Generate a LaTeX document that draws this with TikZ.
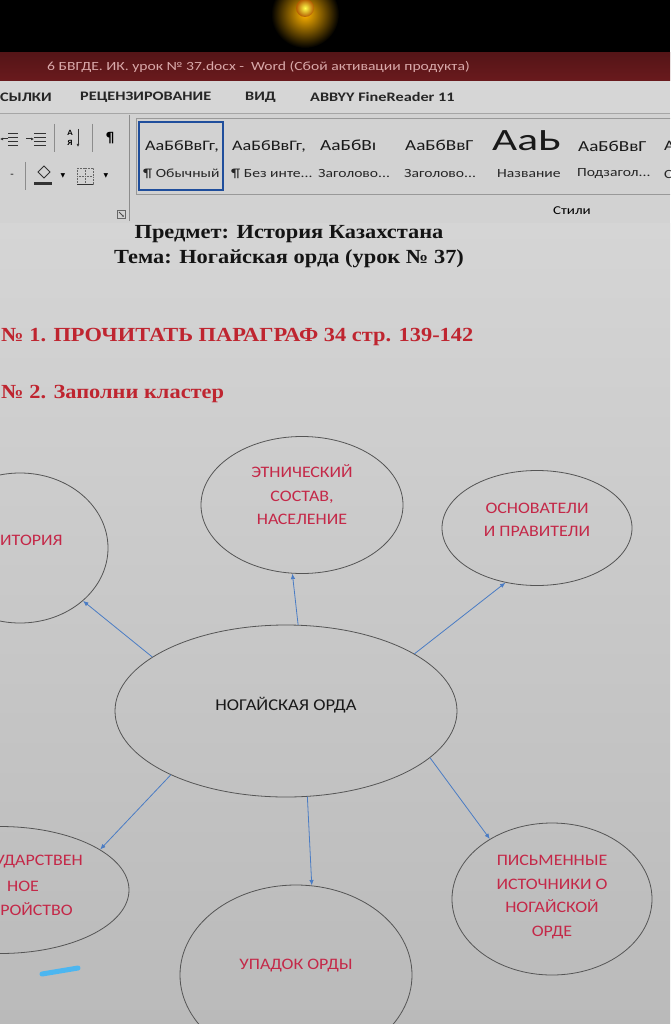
\documentclass[tikz,border=0pt]{standalone}
\usepackage{fontspec}
\setmainfont{Liberation Serif}
\newfontfamily\serifw[FakeStretch=1.12]{Liberation Serif}
\newfontfamily\calib[FakeStretch=1.12]{Carlito}
\newfontfamily\ribf[FakeStretch=1.25]{Carlito}
\newfontfamily\dejav{DejaVu Sans}
\usetikzlibrary{arrows.meta,shapes.geometric}
\definecolor{titlered}{HTML}{6A1A1D}
\definecolor{titletxt}{HTML}{D9A9AA}
\definecolor{tabgray}{HTML}{D6D6D6}
\definecolor{ribgray}{HTML}{D2D2D2}
\definecolor{docgray}{HTML}{D5D5D5}
\definecolor{docdark}{HTML}{BABABA}
\definecolor{crim}{HTML}{C42848}
\definecolor{headred}{HTML}{BF2530}
\definecolor{arrblue}{HTML}{4A7CC4}
\definecolor{selblue}{HTML}{1F4E9C}
\definecolor{markblue}{HTML}{4CB6F0}
\definecolor{rimgray}{HTML}{555555}
\begin{document}
\begin{tikzpicture}[x=1pt,y=-1pt,
  bub/.style={ellipse, draw=rimgray, line width=0.8pt, inner sep=0pt},
  btxt/.style={font=\calib\fontsize{16}{23.6}\selectfont, text=crim, align=center, inner sep=0pt},
  arr/.style={draw=arrblue, line width=0.8pt, -{Latex[length=5.5pt,width=4.5pt]}},
  tab/.style={font=\ribf\bfseries\fontsize{13}{13}\selectfont, text=black!85, inner sep=0pt, anchor=west},
  sty/.style={font=\ribf\fontsize{14.5}{14.5}\selectfont, text=black!90, inner sep=0pt, anchor=west},
  styname/.style={font=\ribf\fontsize{12.5}{12.5}\selectfont, text=black!85, inner sep=0pt, anchor=west},
  ttl/.style={font=\serifw\bfseries\fontsize{20}{20}\selectfont, text=black!92, inner sep=0pt},
  hd/.style={font=\serifw\bfseries\fontsize{20}{20}\selectfont, text=headred, inner sep=0pt, anchor=west},
  sep/.style={draw=black!45, line width=0.7pt}]
\useasboundingbox (0,0) rectangle (670,1024);
\clip (0,0) rectangle (670,1024);
% --- black top with glow
\fill[black] (0,0) rectangle (670,53);
\shade[inner color=orange!60!yellow, outer color=black] (305,14) circle (34);
\shade[inner color=yellow!70!white, outer color=orange!70!black] (305,8) circle (9);
% --- title bar
\shade[top color=titlered!80!black, bottom color=titlered] (0,53) rectangle (670,81);
\node[font=\ribf\fontsize{12.5}{12.5}\selectfont, text=titletxt, inner sep=0pt, anchor=west] (wintitle) at (47,67)
  {6 БВГДЕ. ИК. урок № 37.docx -\ \ Word (Сбой активации продукта)};
% --- tabs row
\fill[tabgray] (0,81) rectangle (670,113);
\node[tab] (t1) at (0,97) {СЫЛКИ};
\node[tab] (t2) at (80,97) {РЕЦЕНЗИРОВАНИЕ};
\node[tab] (t3) at (245,97) {ВИД};
\node[tab] (t4) at (310,97) {ABBYY FineReader 11};
% --- ribbon body
\fill[ribgray] (0,113) rectangle (670,223);
\draw[black!35, line width=0.6pt] (0,113) -- (670,113);
\draw[black!40, line width=0.8pt] (0,223) -- (670,223);
% paragraph group icons
\foreach \yy in {133,137,141,145} {\draw[black!80, line width=0.8pt] (8,\yy) -- (18,\yy);}
\draw[black!80, line width=1pt, -{Latex[length=3pt,width=3pt]}] (8,139) -- (0,139);
\foreach \yy in {133,137,141,145} {\draw[black!80, line width=0.8pt] (34,\yy) -- (46,\yy);}
\draw[black!80, line width=1pt, -{Latex[length=3pt,width=3pt]}] (26,139) -- (34,139);
\draw[sep] (54,124) -- (54,152);
\node[font=\calib\bfseries\fontsize{8}{8}\selectfont, inner sep=0pt] (sa) at (70,133) {А};
\node[font=\calib\bfseries\fontsize{8}{8}\selectfont, inner sep=0pt] (sya) at (70,143) {Я};
\draw[black!80, line width=0.9pt, -{Latex[length=3pt,width=3pt]}] (78,129) -- (78,147);
\draw[sep] (92,124) -- (92,152);
\node[font=\dejav\bfseries\fontsize{14}{14}\selectfont, inner sep=0pt] (pil) at (110,138) {¶};
\node[font=\calib\fontsize{10}{10}\selectfont, inner sep=0pt] (dd0) at (12,176) {-};
\draw[sep] (25,162) -- (25,190);
\draw[black!80, line width=0.9pt] (38,172) -- (44,166) -- (50,172) -- (44,178) -- cycle;
\fill[black!80] (34,182) rectangle (52,185);
\node[font=\dejav\fontsize{6}{6}\selectfont, inner sep=0pt] (dd1) at (63,176) {▼};
\draw[black!60, densely dotted, line width=0.6pt] (77,168) rectangle (93,184);
\draw[black!60, densely dotted, line width=0.6pt] (85,168) -- (85,184) (77,176) -- (93,176);
\draw[black!80, line width=0.9pt] (77,184) -- (93,184);
\node[font=\dejav\fontsize{6}{6}\selectfont, inner sep=0pt] (dd2) at (106,176) {▼};
\draw[black!60, line width=0.6pt] (117,210) rectangle (125,218);
\draw[black!70, line width=0.8pt, -{Latex[length=2pt,width=2pt]}] (119,212) -- (124,217);
\draw[sep] (129,115) -- (129,221);
% styles gallery
\draw[black!40, line width=0.7pt] (136,118) rectangle (672,194);
\draw[selblue, line width=2.6pt] (139,122) rectangle (223,190);
\node[sty] (s1) at (145,146) {АаБбВвГг,};
\node[styname] (n1) at (143,174) {¶ Обычный};
\node[sty] (s2) at (232,146) {АаБбВвГг,};
\node[styname] (n2) at (231,174) {¶ Без инте...};
\node[sty, font=\ribf\fontsize{15.5}{15.5}\selectfont] (s3) at (320,145) {АаБбВı};
\node[styname] (n3) at (318,174) {Заголово...};
\node[sty, font=\ribf\fontsize{15.3}{15.3}\selectfont] (s4) at (405,145) {АаБбВвГ};
\node[styname] (n4) at (404,174) {Заголово...};
\node[sty, font=\ribf\fontsize{31}{31}\selectfont] (s5) at (492,141) {\scalebox{1.12}[1]{АаЬ}};
\node[styname] (n5) at (497,174) {Название};
\node[sty, font=\ribf\fontsize{15.3}{15.3}\selectfont] (s6) at (578,146) {АаБбВвГ};
\node[styname] (n6) at (577,174) {Подзагол...};
\node[sty] (s7) at (664,146) {А};
\node[styname] (n7) at (664,174) {С};
\node[font=\ribf\fontsize{12}{12}\selectfont, inner sep=0pt] (stili) at (572,211) {Стили};
% --- document area
\shade[top color=docgray, bottom color=docdark] (0,224) rectangle (670,1024);
\node[ttl] (subj) at (289,234) {Предмет: История Казахстана};
\node[ttl] (theme) at (289,259) {Тема: Ногайская орда (урок № 37)};
\node[hd] (h1) at (1,337) {№ 1. ПРОЧИТАТЬ ПАРАГРАФ 34 стр. 139-142};
\node[hd] (h2) at (1,394) {№ 2. Заполни кластер};
% --- cluster ellipses
\node[bub, minimum width=342pt, minimum height=172pt] (c) at (286,711) {};
\node[bub, minimum width=176pt, minimum height=150pt] (terr) at (20,548) {};
\node[bub, minimum width=202pt, minimum height=137pt] (eth) at (302,505) {};
\node[bub, minimum width=190pt, minimum height=115pt] (osn) at (537,528) {};
\node[bub, minimum width=258pt, minimum height=127pt] (gos) at (0,890) {};
\node[bub, minimum width=232pt, minimum height=180pt] (upa) at (296,975) {};
\node[bub, minimum width=200pt, minimum height=152pt] (pis) at (552,899) {};
% texts
\node[font=\calib\fontsize{16.5}{16.5}\selectfont, text=black!90, inner sep=0pt] (ct) at (286,705) {НОГАЙСКАЯ ОРДА};
\node[btxt, anchor=west] (terrt) at (0,540) {ИТОРИЯ};
\node[btxt] (etht) at (302,495) {ЭТНИЧЕСКИЙ\\СОСТАВ,\\НАСЕЛЕНИЕ};
\node[btxt] (osnt) at (537,520) {ОСНОВАТЕЛИ\\И ПРАВИТЕЛИ};
\node[btxt, anchor=east] (gost1) at (83,862) {УДАРСТВЕН};
\node[btxt] (gost2) at (23,886) {НОЕ};
\node[btxt, anchor=east] (gost3) at (73,909) {РОЙСТВО};
\node[btxt] (upat) at (296,966) {УПАДОК ОРДЫ};
\node[btxt] (pist) at (552,897) {ПИСЬМЕННЫЕ\\ИСТОЧНИКИ О\\НОГАЙСКОЙ\\ОРДЕ};
% arrows
\draw[arr] (c.158) -- (terr.320);
\draw[arr] (c.82) -- (eth.262);
\draw[arr] (c.24) -- (osn.240);
\draw[arr] (c.209) -- (gos.22);
\draw[arr] (c.284) -- (upa.80);
\draw[arr] (c.342) -- (pis.136);
% stray highlighter mark
\draw[markblue, line width=5pt, line cap=round] (42,974) -- (78,968);
\end{tikzpicture}
\end{document}
